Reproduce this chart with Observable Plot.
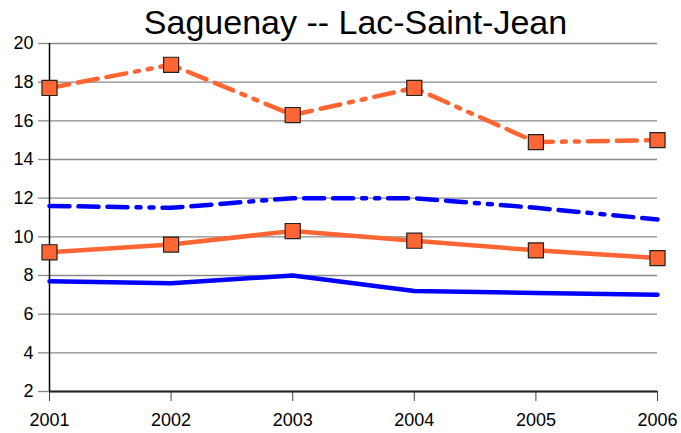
<!DOCTYPE html>
<html>
<head>
<meta charset="utf-8">
<script src="https://cdn.jsdelivr.net/npm/d3@7"></script>
<script src="https://cdn.jsdelivr.net/npm/@observablehq/plot@0.6"></script>
<style>
  html, body { margin: 0; padding: 0; background: #fff; }
  body { width: 681px; height: 433px; overflow: hidden; font-family: "Liberation Sans", Arial, sans-serif; }
  #title { height: 40px; line-height: 44px; font-size: 34px; text-align: center; padding-left: 30px; box-sizing: border-box; color: #000; overflow: visible; white-space: nowrap; }
  svg { overflow: visible; }
</style>
</head>
<body>
<div id="title">Saguenay -- Lac-Saint-Jean</div>
<div id="chart"></div>
<script>
const years = [2001, 2002, 2003, 2004, 2005, 2006];
const orangeDashed = [17.7, 18.9, 16.3, 17.7, 14.9, 15.0];
const blueDashed   = [11.6, 11.5, 12.0, 12.0, 11.5, 10.9];
const orangeSolid  = [9.2, 9.6, 10.3, 9.8, 9.3, 8.9];
const blueSolid    = [7.7, 7.6, 8.0, 7.2, 7.1, 7.0];
const yTicks = [2, 4, 6, 8, 10, 12, 14, 16, 18, 20];

const ORANGE = "#FF6633";
const BLUE = "#0000FF";
const DASH = "20,9,20,9,20,9,4,9,4,9";

const toRows = (vals) => years.map((y, i) => ({year: y, value: vals[i]}));
const oD = toRows(orangeDashed), bD = toRows(blueDashed), oS = toRows(orangeSolid), bS = toRows(blueSolid);

const chart = Plot.plot({
  width: 681,
  height: 393,
  marginTop: 3,
  marginBottom: 42,
  marginLeft: 49,
  marginRight: 24,
  style: {fontFamily: "Liberation Sans, Arial, sans-serif", fontSize: "18px", color: "#000", background: "#fff", overflow: "visible"},
  x: {type: "linear", domain: [2001, 2006]},
  y: {domain: [2, 20]},
  marks: [
    Plot.gridY(yTicks, {stroke: "#8a8a8a", strokeOpacity: 1, strokeWidth: 1.3}),
    Plot.axisY(yTicks, {tickSize: 11, tickPadding: 5, stroke: "#8a8a8a", strokeWidth: 1.3, label: null, fill: "#000", fontSize: 18}),
    Plot.axisX(years, {tickSize: 10, tickPadding: 12, tickFormat: d => String(d), label: null, stroke: "#444", fontSize: 18, fill: "#000"}),
    Plot.ruleY([2], {stroke: "#222", strokeWidth: 2}),
    Plot.ruleX([2001], {y1: 2, y2: 20, stroke: "#000", strokeWidth: 1.5}),
    Plot.line(bS, {x: "year", y: "value", stroke: BLUE, strokeWidth: 4.5}),
    Plot.line(oS, {x: "year", y: "value", stroke: ORANGE, strokeWidth: 4.5}),
    Plot.line(bD, {x: "year", y: "value", stroke: BLUE, strokeWidth: 4.5, strokeDasharray: DASH}),
    Plot.line(oD, {x: "year", y: "value", stroke: ORANGE, strokeWidth: 4.5, strokeDasharray: DASH}),
    Plot.dot(oS, {x: "year", y: "value", symbol: "square", r: 8.5, fill: ORANGE, stroke: "#222", strokeWidth: 1.2}),
    Plot.dot(oD, {x: "year", y: "value", symbol: "square", r: 8.5, fill: ORANGE, stroke: "#222", strokeWidth: 1.2})
  ]
});
document.getElementById("chart").appendChild(chart);
</script>
</body>
</html>
